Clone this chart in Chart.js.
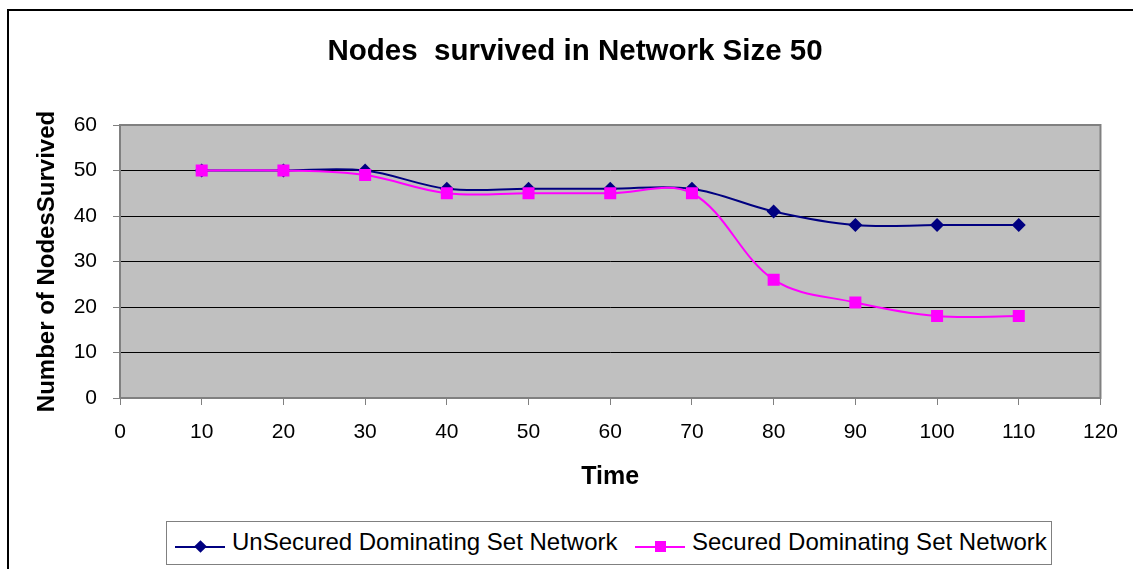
<!DOCTYPE html>
<html><head><meta charset="utf-8">
<script src="https://cdn.jsdelivr.net/npm/chart.js@4.4.0/dist/chart.umd.min.js"></script>
<style>
html,body{margin:0;padding:0;background:#fff;overflow:hidden;}
#wrap{position:relative;width:1133px;height:569px;overflow:hidden;}
#frame{position:absolute;left:7px;top:9px;width:1200px;height:700px;border:2px solid #000;box-sizing:border-box;}
#c{position:absolute;left:0;top:0;}
#title{position:absolute;left:0;width:1150px;top:32px;height:36px;line-height:36px;text-align:center;white-space:pre;font-family:"Liberation Sans",Arial,sans-serif;font-weight:bold;font-size:29.5px;color:#000;}
#legend{position:absolute;left:166px;top:521px;width:886px;height:44px;border:1px solid #808080;box-sizing:border-box;background:#fff;font-family:"Liberation Sans",Arial,sans-serif;font-size:24px;color:#000;}
.ln{position:absolute;height:2px;width:50px;top:24px;}
.txt{position:absolute;top:6px;white-space:nowrap;line-height:28px;}
.dia{position:absolute;width:9px;height:9px;transform:rotate(45deg);top:20px;}
.sq{position:absolute;width:11px;height:11px;top:19px;}
</style>
</head><body>
<div id="wrap">
<div id="frame"></div>
<canvas id="c" width="1133" height="569"></canvas>
<div id="title"></div>
<div id="legend">
  <div class="ln" style="left:8px;background:#000080"></div>
  <div class="dia" style="left:29px;background:#000080"></div>
  <div class="txt" id="leg0" style="left:65px"></div>
  <div class="ln" style="left:468px;background:#FF00FF"></div>
  <div class="sq" style="left:488px;background:#FF00FF"></div>
  <div class="txt" id="leg1" style="left:525px"></div>
</div>
</div>
<script>
const chartTitle = 'Nodes  survived in Network Size 50';
const xTitle = 'Time';
const yTitle = 'Number of NodesSurvived';
const seriesNames = ['UnSecured Dominating Set Network', 'Secured Dominating Set Network'];
const timePoints = [10, 20, 30, 40, 50, 60, 70, 80, 90, 100, 110];
const unsecured = [50, 50, 50, 46, 46, 46, 46, 41, 38, 38, 38];
const secured   = [50, 50, 49, 45, 45, 45, 45, 26, 21, 18, 18];

document.getElementById('title').textContent = chartTitle;
document.getElementById('leg0').textContent = seriesNames[0];
document.getElementById('leg1').textContent = seriesNames[1];

const toXY = vals => timePoints.map((t, i) => ({x: t, y: vals[i]}));

const plotBg = {
  id: 'plotBg',
  beforeDraw(chart) {
    const {ctx, chartArea: a} = chart;
    ctx.save();
    ctx.fillStyle = '#C0C0C0';
    ctx.fillRect(a.left, a.top, a.right - a.left, a.bottom - a.top);
    ctx.restore();
  },
  beforeDatasetsDraw(chart) {
    const {ctx, chartArea: a} = chart;
    ctx.save();
    ctx.strokeStyle = '#808080';
    ctx.lineWidth = 2;
    ctx.strokeRect(a.left, a.top, a.right - a.left, a.bottom - a.top);
    ctx.restore();
  }
};

const FONT = '"Liberation Sans", Arial, sans-serif';

new Chart(document.getElementById('c'), {
  type: 'line',
  data: {
    datasets: [
      {
        label: seriesNames[0], data: toXY(unsecured),
        borderColor: '#000080', backgroundColor: '#000080', borderWidth: 2,
        pointStyle: 'rectRot', pointRadius: 7, pointBorderWidth: 0,
        tension: 0.35, order: 1
      },
      {
        label: seriesNames[1], data: toXY(secured),
        borderColor: '#FF00FF', backgroundColor: '#FF00FF', borderWidth: 2,
        pointStyle: 'rect', pointRadius: 8.5, pointBorderWidth: 0,
        tension: 0.35, order: 0
      }
    ]
  },
  options: {
    responsive: false,
    devicePixelRatio: 1,
    animation: false,
    events: [],
    layout: {padding: {left: 0, right: 32, top: 125, bottom: 0}},
    plugins: {
      legend: {display: false},
      tooltip: {enabled: false},
      title: {display: false}
    },
    scales: {
      x: {
        type: 'linear', min: 0, max: 120,
        ticks: {stepSize: 10, color: '#000', font: {family: FONT, size: 21}, padding: 15, maxRotation: 0},
        grid: {drawOnChartArea: false, drawTicks: true, tickLength: 7, color: '#808080', tickColor: '#808080'},
        border: {color: '#808080', width: 2},
        title: {display: true, text: xTitle, color: '#000', font: {family: FONT, size: 25, weight: 'bold'}, padding: {top: 0, bottom: 77}},
        afterFit(scale) { scale.height = 171; }
      },
      y: {
        min: 0, max: 60,
        ticks: {stepSize: 10, color: '#000', font: {family: FONT, size: 21}, padding: 16},
        grid: {color: '#000', lineWidth: 1, drawTicks: true, tickLength: 7, tickColor: '#808080'},
        border: {color: '#808080', width: 2},
        title: {display: true, text: yTitle, color: '#000', font: {family: FONT, size: 24, weight: 'bold'}, padding: {top: 32.6, bottom: 0}},
        afterFit(scale) { scale.width = 120; }
      }
    }
  },
  plugins: [plotBg]
});
</script>
</body></html>
